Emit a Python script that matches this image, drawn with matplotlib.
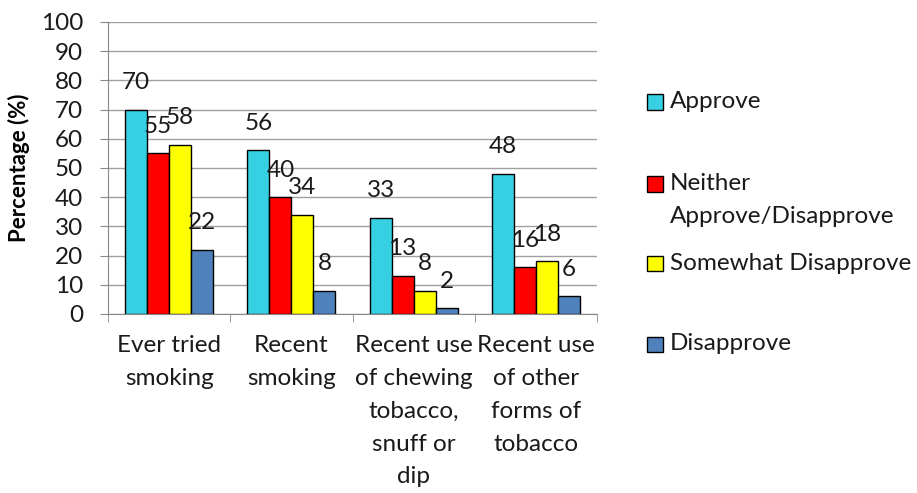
import numpy as np
import matplotlib.pyplot as plt
from matplotlib.patches import Rectangle

plt.rcParams['font.family'] = ['Lato', 'DejaVu Sans']

categories = ['Ever tried\nsmoking', 'Recent\nsmoking',
              'Recent use\nof chewing\ntobacco,\nsnuff or\ndip',
              'Recent use\nof other\nforms of\ntobacco']
series = ['Approve', 'Neither\nApprove/Disapprove', 'Somewhat Disapprove', 'Disapprove']
approve = [70, 56, 33, 48]
neither = [55, 40, 13, 16]
somewhat = [58, 34, 8, 18]
disapprove = [22, 8, 2, 6]
values = [approve, neither, somewhat, disapprove]
colors = ['#36D0E2', '#FF0000', '#FFFF00', '#4F81BD']

fs = 17.5
ls = 1.7
fig = plt.figure(figsize=(9.17, 4.93), dpi=100)
ax = fig.add_axes([108/917, 1 - 314/493, (597-108)/917, (314-22)/493])

x = np.arange(len(categories))
w = 0.18
for i, (vals, c) in enumerate(zip(values, colors)):
    pos = x + (i - 1.5) * w
    ax.bar(pos, vals, w, color=c, edgecolor='black', linewidth=1, zorder=3)
    for p, v in zip(pos, vals):
        ax.annotate(str(v), (p, v), xytext=(0, 19.5), textcoords='offset points',
                    ha='center', va='center', fontsize=fs, color='#1a1a1a', zorder=4)

ax.set_xlim(-0.5, len(categories) - 0.5)
ax.set_ylim(0, 100)
ax.set_yticks(np.arange(0, 101, 10))
ax.yaxis.grid(True, color='#A0A0A0', linewidth=1, zorder=0)
ax.set_axisbelow(True)

ax.set_xticks(x)
ax.set_xticklabels(categories, fontsize=fs, color='#1a1a1a', linespacing=ls, va='top')
ax.set_xticks(np.arange(-0.5, len(categories), 1), minor=True)
ax.tick_params(axis='x', which='major', length=0, pad=15)
ax.tick_params(axis='x', which='minor', length=6, color='#888888', direction='out')
ax.tick_params(axis='y', length=6, color='#888888', pad=12, labelsize=fs, labelcolor='#1a1a1a')

for s in ['top', 'right']:
    ax.spines[s].set_visible(False)
for s in ['left', 'bottom']:
    ax.spines[s].set_color('#888888')

ax.set_ylabel('Percentage (%)', fontsize=16, fontweight='bold', labelpad=8)

# legend drawn by hand so the squares line up with the first text line
legend_y = [102, 200, 263, 344]
square_y = [102, 184, 263, 344]
for lbl, c, ty, sy in zip(series, colors, legend_y, square_y):
    fig.patches.append(Rectangle((647/917, 1 - (sy + 7.5)/493), 16/917, 15/493,
                                 transform=fig.transFigure, facecolor=c,
                                 edgecolor='black', linewidth=1))
    fig.text(670/917, 1 - ty/493, lbl, fontsize=fs, va='center', ha='left',
             color='#1a1a1a', linespacing=ls)

fig.savefig('out.png', dpi=100)
